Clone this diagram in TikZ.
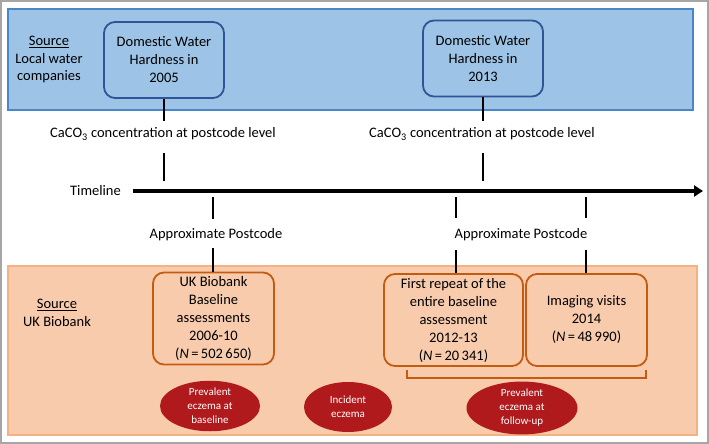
\documentclass[tikz,border=0pt]{standalone}
\usepackage{fontspec}
\setmainfont{Carlito}
\usetikzlibrary{arrows.meta,shapes.geometric}
\definecolor{bluebg}{HTML}{9DC3E6}
\definecolor{blueframe}{HTML}{4A86C8}
\definecolor{bluedark}{HTML}{2F5597}
\definecolor{orangebg}{HTML}{F8CBAD}
\definecolor{orangeframe}{HTML}{F4B183}
\definecolor{orangedark}{HTML}{C55A11}
\definecolor{ellred}{HTML}{B11A1C}
\definecolor{framegray}{HTML}{A6A6A6}
\begin{document}
\begin{tikzpicture}[x=1pt,y=-1pt,
  txt/.style={font=\fontsize{14.5}{18}\selectfont, align=center, inner sep=0pt, text=black},
  bluebox/.style={txt, draw=bluedark, line width=1.8pt, rounded corners=11pt, minimum width=120pt, minimum height=76pt},
  orangebox/.style={txt, draw=orangedark, line width=1.8pt, rounded corners=11pt, minimum height=92pt},
  ell/.style={ellipse, fill=ellred, text=white, font=\fontsize{11}{14}\selectfont, align=center, inner sep=0pt, minimum height=50pt},
  conn/.style={line width=1.5pt, black}]
\useasboundingbox (0,0) rectangle (709,444);
\draw[framegray, line width=2pt] (1,1) rectangle (708,443);
% bands
\draw[fill=bluebg, draw=blueframe, line width=1.2pt] (8,9) rectangle (693,110);
\draw[fill=orangebg, draw=orangeframe, line width=1.2pt] (8,266) rectangle (697,435);
% source labels
\node[txt, font=\fontsize{14.5}{17.5}\selectfont] (s1) at (49,59.5) {\underline{Source}\\Local water\\companies};
\node[txt, font=\fontsize{14.5}{18}\selectfont] (s2) at (57,313) {\underline{Source}\\UK Biobank};
% water boxes
\node[bluebox] (w05) at (164,60) {Domestic Water\\Hardness in\\2005};
\node[bluebox] (w13) at (483,58.5) {Domestic Water\\Hardness in\\2013};
% CaCO3 labels
\node[txt] (c05) at (163,134) {CaCO\textsubscript{3} concentration at postcode level};
\node[txt] (c13) at (482,134) {CaCO\textsubscript{3} concentration at postcode level};
\coordinate (a05) at (164,121);
\coordinate (b05) at (164,153);
\coordinate (d05) at (164,181);
\coordinate (a13) at (483,121);
\coordinate (b13) at (483,153);
\coordinate (d13) at (483,181);
\draw[conn] (w05.south) -- (a05);
\draw[conn] (b05) -- (d05);
\draw[conn] (w13.south) -- (a13);
\draw[conn] (b13) -- (d13);
% timeline
\node[txt] (tl) at (95.5,191) {Timeline};
\coordinate (tls) at (133,191);
\coordinate (tle) at (703,191);
\draw[line width=3.6pt, -{Triangle[length=9pt,width=11pt]}] (tls) -- (tle);
% lower boxes
\node[orangebox, minimum width=121pt] (ub) at (213.5,318.5) {UK Biobank\\Baseline\\assessments\\2006-10\\(\textit{N}\,=\,502\,650)};
\node[orangebox, minimum width=139pt] (fr) at (453.5,320) {First repeat of the\\entire baseline\\assessment\\2012-13\\(\textit{N}\,=\,20\,341)};
\node[orangebox, minimum width=121pt] (im) at (586.5,320) {Imaging visits\\2014\\(\textit{N}\,=\,48\,990)};
% postcode labels
\node[txt] (p1) at (216,235) {Approximate Postcode};
\node[txt] (p2) at (521,235) {Approximate Postcode};
\coordinate (u1a) at (213,197);
\coordinate (u1b) at (213,219);
\coordinate (u1c) at (213,248);
\coordinate (u2a) at (456,197);
\coordinate (u2b) at (456,218);
\coordinate (u2c) at (456,250);
\coordinate (u3a) at (586,197);
\coordinate (u3b) at (586,218);
\coordinate (u3c) at (586,250);
\draw[conn] (u1a) -- (u1b);
\draw[conn] (u1c) -- (u1c |- ub.north);
\draw[conn] (u2a) -- (u2b);
\draw[conn] (u2c) -- (u2c |- fr.north);
\draw[conn] (u3a) -- (u3b);
\draw[conn] (u3c) -- (u3c |- im.north);
% bracket
\draw[orangedark, line width=1.5pt] (407,370) -- (407,378) -- (646,378) -- (646,370);
% ellipses
\node[ell, minimum width=100pt] (e1) at (210,406) {Prevalent\\eczema at\\baseline};
\node[ell, minimum width=88pt] (e2) at (348,407) {Incident\\eczema};
\node[ell, minimum width=111pt] (e3) at (522,408) {Prevalent\\eczema at\\follow-up};
\end{tikzpicture}
\end{document}
